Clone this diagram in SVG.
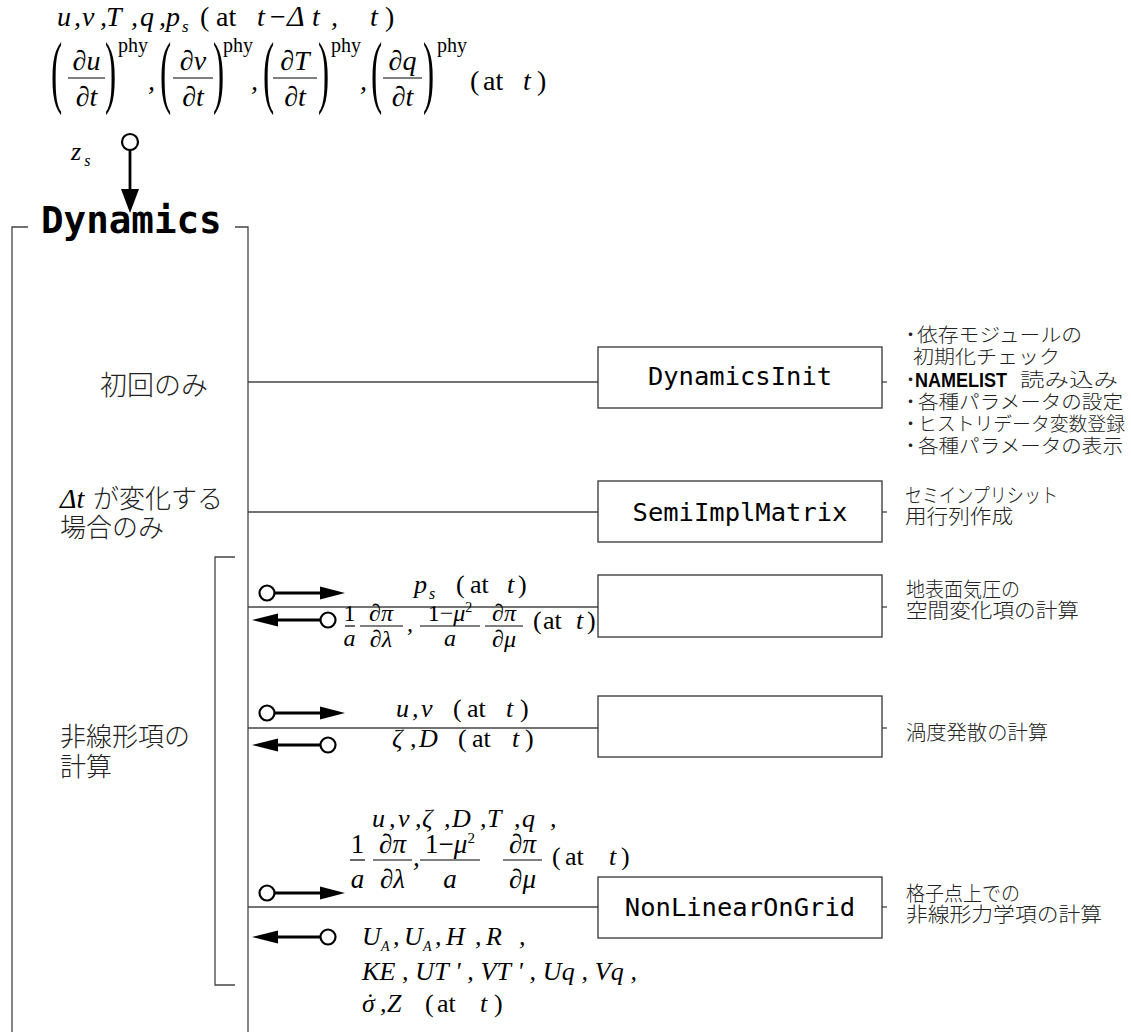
<svg xmlns="http://www.w3.org/2000/svg" width="1131" height="1032" viewBox="0 0 1131 1032">
<style>
.m{font-family:"Liberation Serif","Times New Roman",serif;font-style:italic;fill:#000}
.r{font-style:normal}
.jp{font-family:"Noto Sans CJK JP",sans-serif;font-weight:300;fill:#222}
.b{font-family:"Liberation Sans",Arial,sans-serif;font-weight:bold;fill:#000}
.mono{font-family:"DejaVu Sans Mono",monospace;fill:#000}
.ln{stroke:#444;stroke-width:1.3;fill:none}
.box{fill:#fff;stroke:#333;stroke-width:1.3}
.ar{stroke:#000;stroke-width:2.8;fill:none}
.cir{fill:#fff;stroke:#000;stroke-width:2.2}
.head{fill:#000}
.bar{stroke:#000;stroke-width:1.2}
.c{text-anchor:middle}
</style>
<defs>
<g id="rarrow"><line class="ar" x1="274" y1="0" x2="322" y2="0"/><polygon class="head" points="320,-6.5 345,0 320,6.5"/><circle class="cir" cx="267" cy="0" r="7.5"/></g>
<g id="larrow"><polygon class="head" points="252,0 278,-6.5 278,6.5"/><line class="ar" x1="276" y1="0" x2="321" y2="0"/><circle class="cir" cx="328" cy="0" r="7.5"/></g>
</defs>

<!-- top inputs -->
<g id="inputs">
<text class="m" font-size="28" y="26"><tspan x="57">u</tspan><tspan x="74">,</tspan><tspan x="82">v</tspan><tspan x="100">,</tspan><tspan x="106">T</tspan><tspan x="131">,</tspan><tspan x="140">q</tspan><tspan x="159">,</tspan><tspan x="166">p</tspan><tspan x="182" dy="6" font-size="17">s</tspan><tspan x="200" dy="-6" class="r">(</tspan><tspan x="216" class="r">at</tspan><tspan x="257">t</tspan><tspan x="270" class="r">−</tspan><tspan x="287" font-size="30">Δ</tspan><tspan x="312">t</tspan><tspan x="331">,</tspan><tspan x="370">t</tspan><tspan x="385" class="r">)</tspan></text>
<g font-size="28" class="m">
<text class="r" font-size="80" transform="translate(51,98) scale(0.42,1)">(</text>
<text class="c" x="86.5" y="70">∂u</text><line class="bar" x1="68" y1="78" x2="105" y2="78"/><text class="c" x="86.5" y="106">∂t</text>
<text class="r" font-size="80" transform="translate(105,98) scale(0.42,1)">)</text>
<text class="r" font-size="20" x="118" y="52">phy</text>
<text x="148" y="90">,</text>
<text class="r" font-size="80" transform="translate(160,98) scale(0.42,1)">(</text>
<text class="c" x="193" y="70">∂v</text><line class="bar" x1="173" y1="78" x2="213" y2="78"/><text class="c" x="193" y="106">∂t</text>
<text class="r" font-size="80" transform="translate(213,98) scale(0.42,1)">)</text>
<text class="r" font-size="20" x="223" y="52">phy</text>
<text x="251" y="90">,</text>
<text class="r" font-size="80" transform="translate(263,98) scale(0.42,1)">(</text>
<text class="c" x="295" y="70">∂T</text><line class="bar" x1="273" y1="78" x2="317" y2="78"/><text class="c" x="295" y="106">∂t</text>
<text class="r" font-size="80" transform="translate(318,98) scale(0.42,1)">)</text>
<text class="r" font-size="20" x="331" y="52">phy</text>
<text x="360" y="90">,</text>
<text class="r" font-size="80" transform="translate(371,98) scale(0.42,1)">(</text>
<text class="c" x="402.5" y="70">∂q</text><line class="bar" x1="383" y1="78" x2="422" y2="78"/><text class="c" x="402.5" y="106">∂t</text>
<text class="r" font-size="80" transform="translate(423,98) scale(0.42,1)">)</text>
<text class="r" font-size="20" x="437" y="52">phy</text>
<text y="90"><tspan x="470" class="r">(</tspan><tspan x="483" class="r">at</tspan><tspan x="523">t</tspan><tspan x="537" class="r">)</tspan></text>
</g>
<text class="m" font-size="26" x="71" y="160">z<tspan font-size="16" dx="3" dy="6">s</tspan></text>
</g>

<!-- Dynamics frame -->
<g id="dynamics">
<text class="mono" font-weight="bold" font-size="37.5" x="41" y="233">Dynamics</text>
<polyline class="ln" points="28,227 12,227 12,1032"/>
<polyline class="ln" points="235,227 248,227 248,1032"/>
<polyline class="ln" points="235,557 215,557 215,985 235,985"/>
</g>

<g id="labels">
<text class="jp" font-size="27" x="100" y="395">初回のみ</text>
<text class="jp" font-size="26" x="60" y="508"><tspan class="m" font-size="28">Δt</tspan><tspan x="93">が変化する</tspan></text>
<text class="jp" font-size="26" x="60" y="537">場合のみ</text>
<text class="jp" font-size="26" x="60" y="746">非線形項の</text>
<text class="jp" font-size="26" x="60" y="776">計算</text>
</g>

<!-- connectors -->
<g id="connectors">
<line class="ln" x1="248" y1="382" x2="598" y2="382"/>
<line class="ln" x1="248" y1="512" x2="598" y2="512"/>
<line class="ln" x1="248" y1="607" x2="598" y2="607"/>
<line class="ln" x1="248" y1="728" x2="598" y2="728"/>
<line class="ln" x1="248" y1="907" x2="598" y2="907"/>
<line class="ln" x1="882" y1="382" x2="887" y2="382"/>
<line class="ln" x1="882" y1="512" x2="887" y2="512"/>
<line class="ln" x1="882" y1="607" x2="887" y2="607"/>
<line class="ln" x1="882" y1="728" x2="887" y2="728"/>
<line class="ln" x1="882" y1="907" x2="887" y2="907"/>
<line class="ar" x1="130" y1="150" x2="130" y2="192"/>
<polygon class="head" points="121,189 139,189 130,213"/>
<circle class="cir" cx="130" cy="142" r="8"/>
<use href="#rarrow" y="593"/>
<use href="#larrow" y="620"/>
<use href="#rarrow" y="713"/>
<use href="#larrow" y="745"/>
<use href="#rarrow" y="893"/>
<use href="#larrow" y="937"/>
</g>

<!-- boxes -->
<g id="DynamicsInit">
<rect class="box" x="598" y="347" width="284" height="61"/>
<text class="mono c" font-size="25.5" x="740" y="385">DynamicsInit</text>
</g>
<g id="SemiImplMatrix">
<rect class="box" x="598" y="481" width="284" height="61"/>
<text class="mono c" font-size="25.5" x="740" y="521">SemiImplMatrix</text>
</g>
<g id="SurfPresGrad">
<rect class="box" x="598" y="575" width="284" height="62"/>
</g>
<g id="VorDiv">
<rect class="box" x="598" y="696" width="284" height="61"/>
</g>
<g id="NonLinearOnGrid">
<rect class="box" x="598" y="877" width="284" height="61"/>
<text class="mono c" font-size="25.5" x="740" y="916">NonLinearOnGrid</text>
</g>

<!-- notes -->
<g id="notes" font-size="19">
<text class="jp" x="901" y="342">・</text>
<text class="jp" x="917" y="342" textLength="165" lengthAdjust="spacingAndGlyphs">依存モジュールの</text>
<text class="jp" x="913" y="364" textLength="147" lengthAdjust="spacingAndGlyphs">初期化チェック</text>
<text class="jp" x="901" y="387">・</text>
<text class="b" x="915" y="387" font-size="20" textLength="92" lengthAdjust="spacingAndGlyphs">NAMELIST</text>
<text class="jp" x="1020" y="387" textLength="98" lengthAdjust="spacingAndGlyphs">読み込み</text>
<text class="jp" x="901" y="409">・</text>
<text class="jp" x="918" y="409" textLength="205" lengthAdjust="spacingAndGlyphs">各種パラメータの設定</text>
<text class="jp" x="901" y="431">・</text>
<text class="jp" x="918" y="431" textLength="207" lengthAdjust="spacingAndGlyphs">ヒストリデータ変数登録</text>
<text class="jp" x="901" y="453">・</text>
<text class="jp" x="918" y="453" textLength="205" lengthAdjust="spacingAndGlyphs">各種パラメータの表示</text>
<text class="jp" font-size="20" x="905" y="503" textLength="153" lengthAdjust="spacingAndGlyphs">セミインプリシット</text>
<text class="jp" font-size="20" x="905" y="524" textLength="108" lengthAdjust="spacingAndGlyphs">用行列作成</text>
<text class="jp" font-size="20" x="906" y="597" textLength="114" lengthAdjust="spacingAndGlyphs">地表面気圧の</text>
<text class="jp" font-size="20" x="906" y="618" textLength="173" lengthAdjust="spacingAndGlyphs">空間変化項の計算</text>
<text class="jp" font-size="20" x="906" y="740" textLength="142" lengthAdjust="spacingAndGlyphs">渦度発散の計算</text>
<text class="jp" font-size="20" x="906" y="901" textLength="114" lengthAdjust="spacingAndGlyphs">格子点上での</text>
<text class="jp" font-size="20" x="906" y="922" textLength="196" lengthAdjust="spacingAndGlyphs">非線形力学項の計算</text>
</g>

<!-- formulas on connectors -->
<g id="f-ps" class="m" font-size="26">
<text y="593"><tspan x="414">p</tspan><tspan x="429" dy="6" font-size="16">s</tspan><tspan x="456" dy="-6" class="r">(</tspan><tspan x="470" class="r">at</tspan><tspan x="507">t</tspan><tspan x="518" class="r">)</tspan></text>
<g font-size="24">
<text class="c r" x="349.5" y="621">1</text><line class="bar" x1="345" y1="626" x2="355" y2="626"/><text class="c" x="349.5" y="646">a</text>
<text class="c" x="381" y="621">∂π</text><line class="bar" x1="360" y1="626" x2="403" y2="626"/><text class="c" x="381" y="647">∂λ</text>
<text x="407" y="631">,</text>
<text class="c" x="450" y="621"><tspan class="r">1−</tspan>μ<tspan font-size="14" dy="-9" class="r">2</tspan></text><line class="bar" x1="420" y1="626" x2="480" y2="626"/><text class="c" x="450" y="646">a</text>
<text class="c" x="504" y="621">∂π</text><line class="bar" x1="485" y1="626" x2="523" y2="626"/><text class="c" x="504" y="647">∂μ</text>
</g>
<text y="629"><tspan x="533" class="r">(</tspan><tspan x="543" class="r">at</tspan><tspan x="576">t</tspan><tspan x="587" class="r">)</tspan></text>
</g>

<g id="f-uv" class="m" font-size="26">
<text y="717"><tspan x="396">u</tspan><tspan x="412">,</tspan><tspan x="421">v</tspan><tspan x="453" class="r">(</tspan><tspan x="467" class="r">at</tspan><tspan x="506">t</tspan><tspan x="520" class="r">)</tspan></text>
<text y="747"><tspan x="392">ζ</tspan><tspan x="410">,</tspan><tspan x="419">D</tspan><tspan x="458" class="r">(</tspan><tspan x="472" class="r">at</tspan><tspan x="512">t</tspan><tspan x="525" class="r">)</tspan></text>
</g>

<g id="f-nl" class="m" font-size="26">
<text y="827"><tspan x="372">u</tspan><tspan x="389">,</tspan><tspan x="398">v</tspan><tspan x="415">,</tspan><tspan x="422">ζ</tspan><tspan x="444">,</tspan><tspan x="452">D</tspan><tspan x="480">,</tspan><tspan x="487">T</tspan><tspan x="514">,</tspan><tspan x="522">q</tspan><tspan x="550">,</tspan></text>
<g font-size="27">
<text class="c r" x="357.5" y="853">1</text><line class="bar" x1="350" y1="860" x2="365" y2="860"/><text class="c" x="357.5" y="888">a</text>
<text class="c" x="392.5" y="853">∂π</text><line class="bar" x1="373" y1="860" x2="412" y2="860"/><text class="c" x="392.5" y="888">∂λ</text>
<text x="413" y="866">,</text>
<text class="c" x="450" y="853"><tspan class="r">1−</tspan>μ<tspan font-size="15" dy="-10" class="r">2</tspan></text><line class="bar" x1="420" y1="860" x2="480" y2="860"/><text class="c" x="450" y="888">a</text>
<text class="c" x="522.5" y="853">∂π</text><line class="bar" x1="503" y1="860" x2="542" y2="860"/><text class="c" x="522.5" y="888">∂μ</text>
</g>
<text y="865"><tspan x="552" class="r">(</tspan><tspan x="565" class="r">at</tspan><tspan x="609">t</tspan><tspan x="621" class="r">)</tspan></text>
<text y="945"><tspan x="362">U</tspan><tspan x="381" dy="6" font-size="14">A</tspan><tspan x="393" dy="-6">,</tspan><tspan x="404">U</tspan><tspan x="423" dy="6" font-size="14">A</tspan><tspan x="435" dy="-6">,</tspan><tspan x="446">H</tspan><tspan x="475">,</tspan><tspan x="486">R</tspan><tspan x="519">,</tspan></text>
<text y="980" x="362" textLength="275" lengthAdjust="spacing">KE , UT ' , VT ' , Uq , Vq ,</text>
<text y="1012"><tspan x="362">σ</tspan><tspan x="380">,</tspan><tspan x="387">Z</tspan><tspan x="425" class="r">(</tspan><tspan x="437" class="r">at</tspan><tspan x="480">t</tspan><tspan x="494" class="r">)</tspan></text>
<text class="r" x="366" y="1011" font-size="26">˙</text>
</g>
</svg>
